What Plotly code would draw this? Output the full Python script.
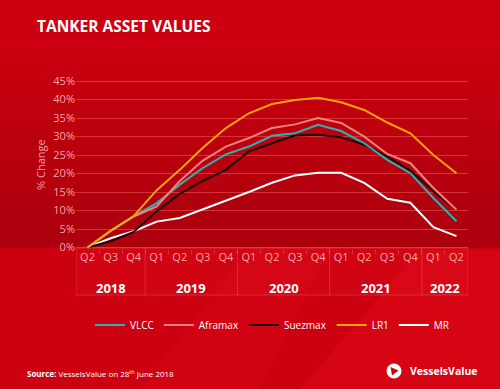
import plotly.graph_objects as go

quarters = ["Q2", "Q3", "Q4", "Q1", "Q2", "Q3", "Q4", "Q1", "Q2", "Q3", "Q4",
            "Q1", "Q2", "Q3", "Q4", "Q1", "Q2"]
years = ["2018", "2019", "2020", "2021", "2022"]
year_quarters = [3, 4, 4, 4, 2]

vlcc = [0, 4.5, 8.4, 12.0, 17.0, 21.5, 25.2, 27.3, 30.2, 30.9, 33.2, 31.5, 28.2, 23.7, 20.1, 13.4, 7.1]
aframax = [0, 4.5, 8.4, 11.1, 18.0, 23.5, 27.3, 29.6, 32.3, 33.3, 35.0, 33.7, 30.0, 25.3, 22.8, 16.1, 10.2]
suezmax = [0, 1.7, 4.2, 9.8, 14.5, 18.0, 21.0, 26.0, 28.2, 30.3, 30.5, 29.8, 27.8, 24.6, 20.8, 15.2, 10.2]
lr1 = [0, 4.5, 8.5, 15.5, 21.0, 27.0, 32.3, 36.3, 38.8, 39.9, 40.5, 39.3, 37.2, 33.8, 30.9, 25.0, 20.1]
mr = [0, 2.5, 4.4, 7.0, 8.0, 10.3, 12.6, 15.0, 17.5, 19.5, 20.2, 20.2, 17.5, 13.2, 12.1, 5.5, 3.1]

y_ticks = list(range(0, 50, 5))

W, H = 500, 389
L, R, T, B = 76, 32, 80, 140
PW, PH = W - L - R, H - T - B


def px(x):
    return (x - L) / PW


def py(y):
    return (H - B - y) / PH


FONT = "Open Sans"
xs = list(range(len(quarters)))

fig = go.Figure()
series = [
    ("MR", mr, "#ffffff"),
    ("Suezmax", suezmax, "#1a0606"),
    ("VLCC", vlcc, "#2ab3b1"),
    ("Aframax", aframax, "#f58080"),
    ("LR1", lr1, "#f5a50a"),
]
legend_rank = {"VLCC": 1, "Aframax": 2, "Suezmax": 3, "LR1": 4, "MR": 5}
for name, vals, col in series:
    fig.add_trace(go.Scatter(
        x=xs, y=vals, mode="lines", name=name,
        line=dict(color=col, width=2),
        legendrank=legend_rank[name],
        hoverinfo="skip",
    ))

shapes = []
# background gradient: upper region darkening toward the axis
n = 16
top, bot = 45, 248
for k in range(n):
    y0 = top + (bot - top) * k / n
    y1 = top + (bot - top) * (k + 1) / n
    a = 0.03 + 0.25 * (k / (n - 1))
    shapes.append(dict(type="rect", xref="paper", yref="paper", layer="below",
                       x0=px(0), x1=px(W), y0=py(y1), y1=py(y0),
                       fillcolor=f"rgba(90,0,5,{a:.3f})", line=dict(width=0)))
# lighter diagonal wedges, lower right
shapes.append(dict(type="path", xref="paper", yref="paper", layer="below",
                   path=f"M {px(300)},{py(H)} L {px(420)},{py(250)} L {px(W)},{py(250)} L {px(W)},{py(H)} Z",
                   fillcolor="rgba(255,30,40,0.18)", line=dict(width=0)))
shapes.append(dict(type="path", xref="paper", yref="paper", layer="below",
                   path=f"M {px(140)},{py(H)} L {px(250)},{py(248)} L {px(330)},{py(248)} L {px(260)},{py(H)} Z",
                   fillcolor="rgba(255,30,40,0.10)", line=dict(width=0)))
# x-axis box
shapes.append(dict(type="rect", xref="x", yref="paper", layer="below",
                   x0=-0.5, x1=len(quarters) - 0.5, y0=py(295), y1=py(248),
                   fillcolor="rgba(255,40,50,0.10)",
                   line=dict(color="rgba(255,255,255,0.16)", width=1)))
# year separators
pos = -0.5
for nq in year_quarters[:-1]:
    pos += nq
    shapes.append(dict(type="line", xref="x", yref="paper", layer="below",
                       x0=pos, x1=pos, y0=py(295), y1=py(248),
                       line=dict(color="rgba(255,255,255,0.16)", width=1)))
# logo circle + triangle
cx, cy, r = 394, 371, 7.5
shapes.append(dict(type="circle", xref="paper", yref="paper",
                   x0=px(cx - r), x1=px(cx + r), y0=py(cy + r), y1=py(cy - r),
                   fillcolor="white", line=dict(width=0)))
shapes.append(dict(type="path", xref="paper", yref="paper",
                   path=f"M {px(cx-3.5)},{py(cy-4)} L {px(cx+4.5)},{py(cy-0.5)} L {px(cx-2)},{py(cy+4.5)} Z",
                   fillcolor="#d0000f", line=dict(width=0)))

annotations = []
pos = -0.5
for yr, nq in zip(years, year_quarters):
    annotations.append(dict(x=pos + nq / 2, y=py(288), xref="x", yref="paper",
                            text=f"<b>{yr}</b>", showarrow=False,
                            font=dict(family=FONT, size=13, color="white"),
                            xanchor="center", yanchor="middle"))
    pos += nq
annotations.append(dict(x=px(40), y=py(165), xref="paper", yref="paper",
                        text="% Change", textangle=-90, showarrow=False,
                        font=dict(family=FONT, size=11, color="rgba(255,185,185,0.9)"),
                        xanchor="center", yanchor="middle"))
annotations.append(dict(x=px(25), y=py(373), xref="paper", yref="paper",
                        text="<b>Source:</b> VesselsValue on 28<sup>th</sup> June 2018",
                        showarrow=False,
                        font=dict(family=FONT, size=8, color="white"),
                        xanchor="left", yanchor="middle"))
annotations.append(dict(x=px(408), y=py(371), xref="paper", yref="paper",
                        text="<b>VesselsValue</b>", showarrow=False,
                        font=dict(family=FONT, size=10.5, color="white"),
                        xanchor="left", yanchor="middle"))

fig.update_layout(
    width=W, height=H,
    margin=dict(l=L, r=R, t=T, b=B, pad=0),
    paper_bgcolor="#cc0010",
    plot_bgcolor="rgba(0,0,0,0)",
    title=dict(text="<b>TANKER ASSET VALUES</b>", x=37 / W, xanchor="left",
               y=1 - 27 / H, yanchor="middle",
               font=dict(family=FONT, size=15.5, color="white")),
    xaxis=dict(range=[-0.5, len(quarters) - 0.5], tickmode="array",
               tickvals=xs, ticktext=quarters, showgrid=False, zeroline=False,
               showline=False, ticks="",
               tickfont=dict(family=FONT, size=11, color="rgba(255,190,190,0.9)"),
               minor=dict(tickvals=[i + 0.5 for i in xs[:-1]], ticks="outside",
                          ticklen=4, tickcolor="rgba(255,255,255,0.18)", showgrid=False),
               fixedrange=True),
    yaxis=dict(range=[-0.4, 45.3], tickmode="array", tickvals=y_ticks,
               ticktext=[f"{v}%" for v in y_ticks], showgrid=True,
               gridcolor="rgba(255,110,110,0.45)", gridwidth=1, zeroline=False,
               showline=False, ticks="",
               tickfont=dict(family=FONT, size=11, color="rgba(255,190,190,0.9)"),
               fixedrange=True),
    legend=dict(orientation="h", x=px(272), xanchor="center", y=py(325),
                yanchor="middle", bgcolor="rgba(0,0,0,0)",
                font=dict(family=FONT, size=10, color="white"),
                itemwidth=30, tracegroupgap=0),
    shapes=shapes,
    annotations=annotations,
    showlegend=True,
)

fig.write_html("out.html", config={"displayModeBar": False},
               post_script="document.body.style.margin='0';document.body.style.padding='0';")
